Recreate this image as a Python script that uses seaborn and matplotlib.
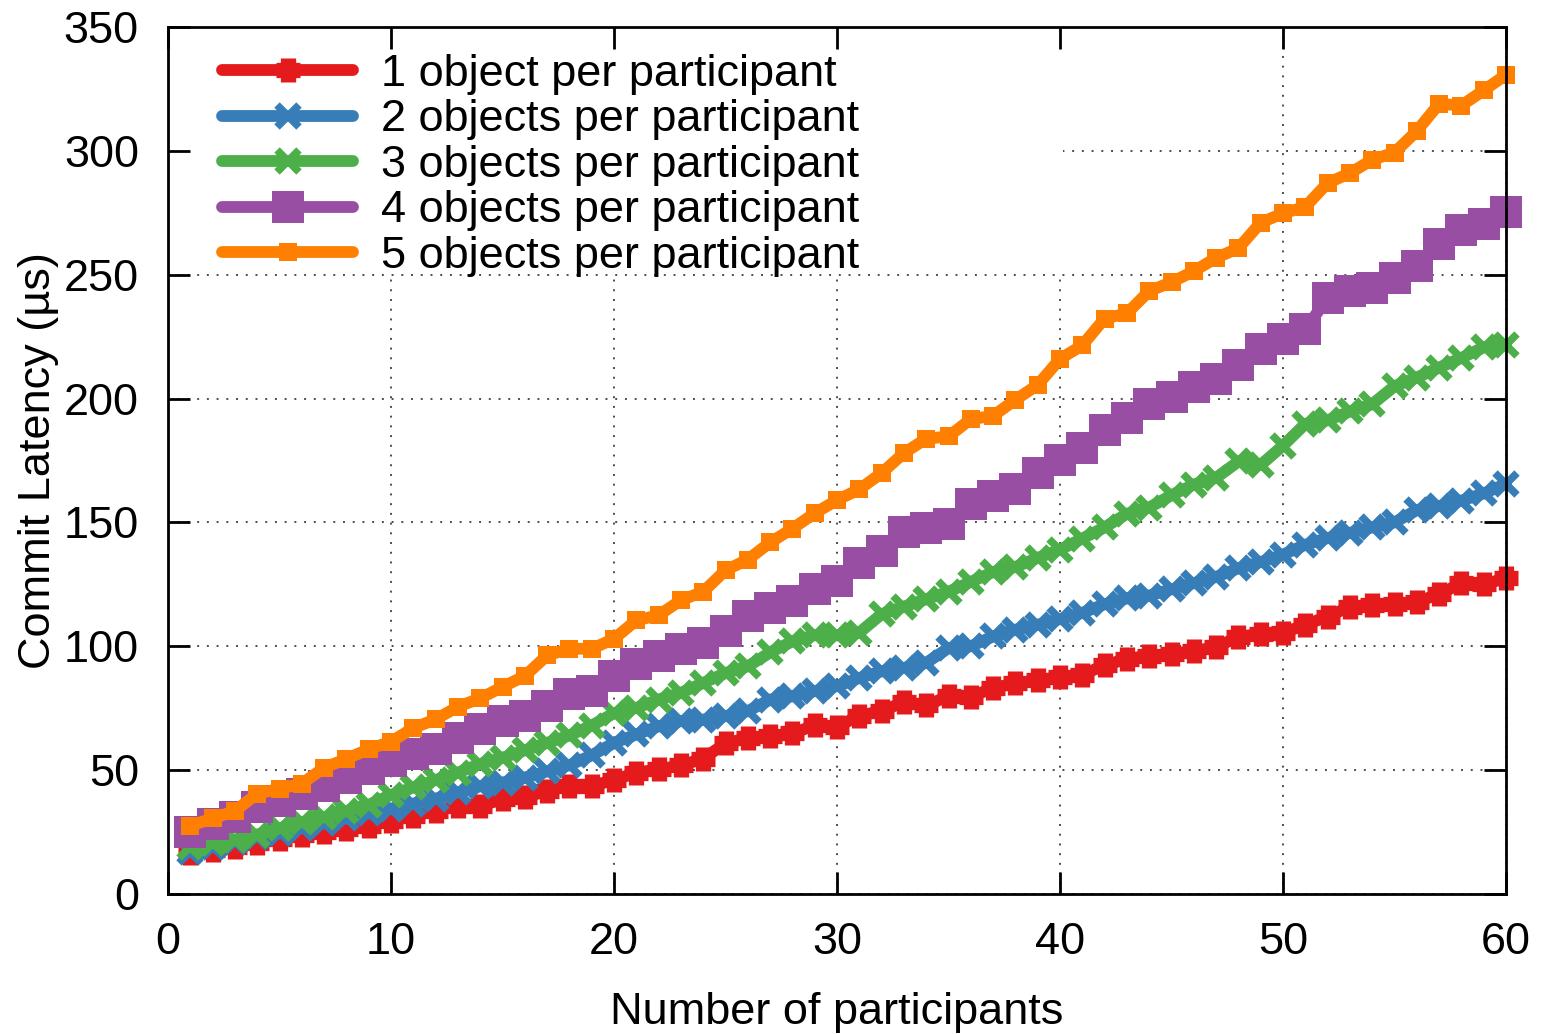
import matplotlib
matplotlib.use("Agg")
import matplotlib.pyplot as plt
from matplotlib.patches import Rectangle
import numpy as np
import pandas as pd
import seaborn as sns

# ---------------- data ----------------
participants = list(range(1, 61))

obj1 = [16.5, 17.6, 19, 20.6, 22.3, 23.9, 25, 26.3, 27.6, 29.6,
        31.6, 33.6, 35.7, 35.5, 38.3, 39, 41.7, 43.7, 43.7, 46,
        49, 50.3, 51.9, 54.7, 60.8, 63, 63.7, 64.8, 68.1, 67.5,
        72, 73.8, 77.5, 76.2, 79.8, 79.6, 83.2, 85, 86.3, 87.6,
        88.6, 92.3, 95, 96, 97, 98, 99.7, 103.8, 105, 105.4,
        108.7, 112, 116, 116.5, 117, 118, 121, 125.5, 125, 127.5]

obj2 = [17, 19, 21, 23, 24.5, 26.5, 28.5, 30.5, 32.5, 34.5,
        36.5, 38.5, 41, 43.5, 45, 47, 49.5, 52, 56, 61,
        64.4, 67.7, 69.8, 70.4, 71.8, 73.8, 78.5, 79.8, 81.9, 83.9,
        87.2, 89.9, 91.3, 93.3, 99.3, 100, 104, 106.7, 108.7, 111,
        113.5, 117, 119.3, 120.5, 123, 125.5, 128, 131.5, 134, 137,
        141, 143.7, 145.8, 148, 150, 155, 156.6, 158.8, 161.7, 165.6]

obj3 = [19, 20.5, 22, 24, 26.5, 29, 31, 33.5, 36, 40,
        43, 46, 49, 52.5, 55, 58, 61, 64, 68, 73,
        75.1, 78.5, 81.2, 85.2, 89.2, 91.9, 97.5, 102, 104.5, 104.5,
        105.5, 113, 116, 119, 122, 126, 130, 132, 135.7, 139,
        143.5, 148, 153.5, 156, 161, 165.3, 168, 174.6, 173.2, 181,
        189.8, 191.2, 194.8, 197.7, 205, 208.5, 212.5, 216.4, 220.7, 221.5]

obj4 = [25, 28.3, 31, 35, 37.7, 40.3, 43.7, 47, 50.4, 53.5,
        56.4, 58.4, 63, 66.5, 69.8, 71.8, 75.9, 80.6, 81.9, 88,
        92.7, 96, 98.8, 101.5, 106.2, 112.2, 115.6, 118.3, 123, 126.4,
        133.8, 138.5, 146.3, 147.6, 149.3, 157.3, 160.7, 163.4, 170, 175,
        180, 187.2, 192.3, 197.7, 200.6, 204.5, 207.8, 213.4, 220, 224,
        228, 240.5, 243.4, 244.5, 248.8, 253.7, 262.5, 268, 270.5, 275.4]

obj5 = [27.6, 30.5, 33.5, 40.5, 42.5, 44.5, 51, 54.5, 58.5, 61.5,
        67, 70.5, 75.6, 79, 83.6, 88, 96.3, 99, 99, 103,
        110.5, 112.5, 118.6, 122, 130.7, 135, 141.9, 147.5, 153.7, 159,
        163.4, 169.9, 178, 183.8, 184.7, 191.7, 193, 199.5, 205.5, 216,
        221.5, 232.3, 234.4, 243.4, 247, 251.4, 256.8, 260.7, 271, 274.8,
        277.4, 287, 291, 296.4, 299.3, 308, 319, 318.3, 324.4, 330.7]

series_labels = ["1 object per participant", "2 objects per participant",
                 "3 objects per participant", "4 objects per participant",
                 "5 objects per participant"]
series_values = [obj1, obj2, obj3, obj4, obj5]

x_ticks = [0, 10, 20, 30, 40, 50, 60]
y_ticks = [0, 50, 100, 150, 200, 250, 300, 350]

# ---------------- style ----------------
colors = ["#e41a1c", "#377eb8", "#4daf4a", "#984ea3", "#ff7f00"]
markers = ["+", "x", "x", "s", "s"]
msizes = [17, 16, 16, 23, 13.5]
mews = [11, 5.5, 5.5, 0, 0]

sns.set_style("white")
plt.rcParams["font.family"] = ["Liberation Sans", "DejaVu Sans"]
plt.rcParams["text.color"] = "black"
plt.rcParams["axes.labelcolor"] = "black"
plt.rcParams["xtick.color"] = "black"
plt.rcParams["ytick.color"] = "black"
FS = 32.5

fig = plt.figure(figsize=(15.43, 10.34), dpi=100)
rect = [168 / 1543, 1 - 894 / 1034, 1338 / 1543, 867 / 1034]
ax = fig.add_axes(rect)

frames = []
for lab, vals in zip(series_labels, series_values):
    frames.append(pd.DataFrame({"participants": participants,
                                "latency": vals, "series": lab}))
df = pd.concat(frames, ignore_index=True)

for lab, c, m, ms, mew in zip(series_labels, colors, markers, msizes, mews):
    sub = df[df["series"] == lab]
    sns.lineplot(data=sub, x="participants", y="latency", ax=ax,
                 color=c, marker=m, markersize=ms,
                 markeredgewidth=mew, markeredgecolor=c,
                 linewidth=8.5, label=lab, clip_on=False, zorder=2)

ax.set_xlim(0, 60)
ax.set_ylim(0, 350)
ax.set_xticks(x_ticks)
ax.set_yticks(y_ticks)
ax.set_axisbelow(True)
ax.grid(True, color="0.3", linestyle=(0, (1, 4)), linewidth=1.4)
ax.tick_params(axis="both", length=0, labelsize=FS, labelcolor="black")
ax.tick_params(axis="x", pad=20)
ax.tick_params(axis="y", pad=21)
for s in ax.spines.values():
    s.set_visible(False)

ax.set_xlabel("Number of participants", fontsize=FS, labelpad=21, color="black")
ax.set_ylabel("Commit Latency (µs)", fontsize=FS, labelpad=3, color="black")

# white key box hiding the grid behind the legend
ax.add_patch(Rectangle((0, 0.717), 0.669, 0.283, transform=ax.transAxes,
                       facecolor="white", edgecolor="none", zorder=0.8))

leg = ax.legend(loc="upper left", bbox_to_anchor=(0.0405, 0.969),
                frameon=False, fontsize=FS, handlelength=2.9,
                handletextpad=0.62, labelspacing=0.1, borderpad=0,
                borderaxespad=0, numpoints=1)
for t in leg.get_texts():
    t.set_color("black")
leg.set_zorder(5)

# overlay axes for border and inward ticks on all sides
ax2 = fig.add_axes(rect, label="border")
ax2.set_zorder(ax.get_zorder() + 1)
ax2.patch.set_visible(False)
ax2.set_xlim(0, 60)
ax2.set_ylim(0, 350)
ax2.set_xticks(x_ticks)
ax2.set_yticks(y_ticks)
ax2.tick_params(axis="both", which="both", direction="in", length=16, width=2,
                color="black", top=True, right=True, bottom=True, left=True,
                labelbottom=False, labelleft=False)
for s in ax2.spines.values():
    s.set_visible(True)
    s.set_linewidth(2)
    s.set_color("black")

fig.savefig("out.png", dpi=100)
